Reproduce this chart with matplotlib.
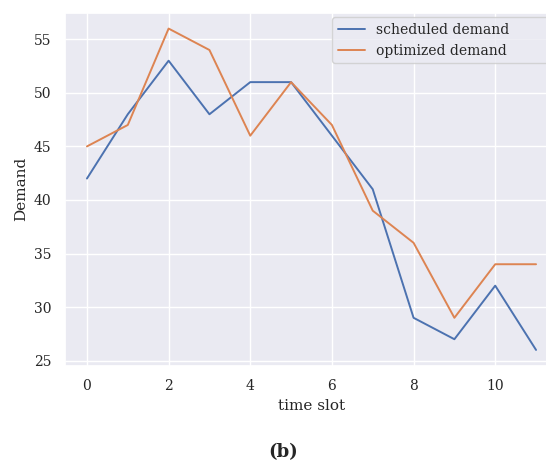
import matplotlib
matplotlib.use("Agg")
import matplotlib.pyplot as plt
import seaborn as sns

slots = list(range(12))
scheduled = [42, 48, 53, 48, 51, 51, 46, 41, 29, 27, 32, 26]
optimized = [45, 47, 56, 54, 46, 51, 47, 39, 36, 29, 34, 34]

sns.set_theme(style="darkgrid")
plt.rcParams['font.family'] = ['DejaVu Serif']

W, H = 546, 466
fig = plt.figure(figsize=(5.46, 4.66), dpi=100)
# axes runs past the right edge of the figure, as in the original crop
ax = fig.add_axes([64.5 / W, 1 - 366 / H, 494 / W, 353.5 / H])

ax.plot(slots, scheduled, label="scheduled demand", linewidth=1.4)
ax.plot(slots, optimized, label="optimized demand", linewidth=1.4)

ax.set_xlim(-0.55, 11.55)
ax.set_ylim(24.5, 57.5)
ax.set_xticks([0, 2, 4, 6, 8, 10])
ax.set_yticks([25, 30, 35, 40, 45, 50, 55])
ax.tick_params(labelsize=10)
ax.set_xlabel("time slot", fontsize=11)
ax.set_ylabel("Demand", fontsize=11)
ax.legend(loc="upper left", fontsize=10, mode="expand",
          bbox_to_anchor=(332 / W, 1 - 62 / H, 230 / W, 45 / H),
          bbox_transform=fig.transFigure, borderaxespad=0)

fig.text(0.518, 1 - 452 / H, "(b)", ha="center", va="center",
         fontsize=13, fontweight="bold")

fig.savefig("out.png", dpi=100)
